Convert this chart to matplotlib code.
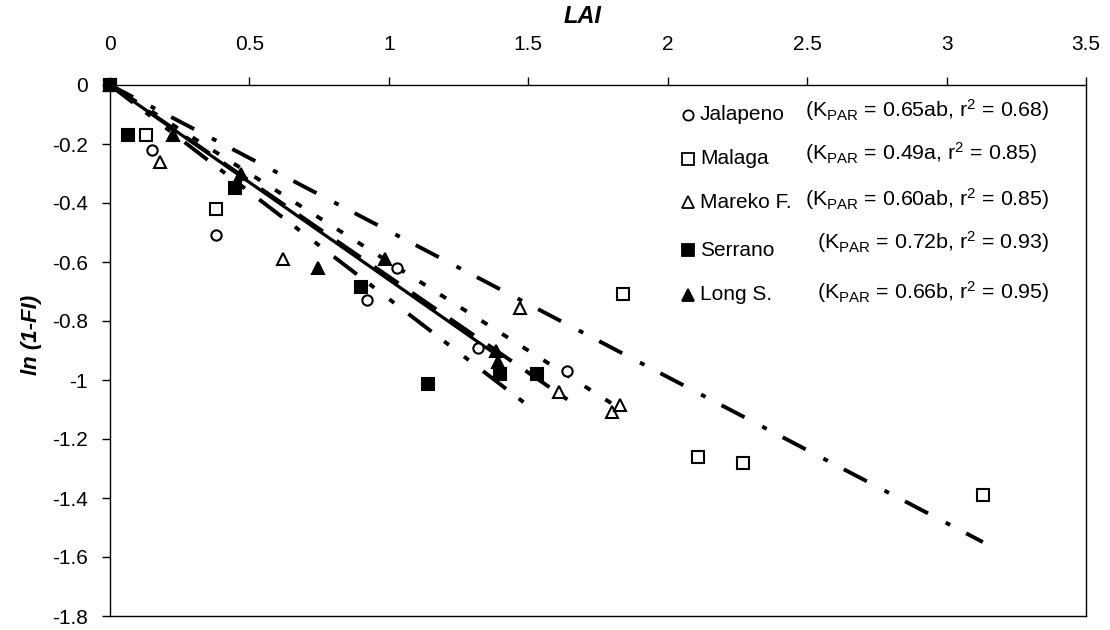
import matplotlib
matplotlib.use("Agg")
import matplotlib.pyplot as plt

plt.rcParams['font.family'] = ['Liberation Sans', 'DejaVu Sans']
plt.rcParams['mathtext.fontset'] = 'custom'
plt.rcParams['mathtext.rm'] = 'Liberation Sans'
plt.rcParams['mathtext.it'] = 'Liberation Sans:italic'
plt.rcParams['mathtext.bf'] = 'Liberation Sans:bold'
plt.rcParams['lines.scale_dashes'] = False

# ---------------- data ----------------
names = ["Jalapeno", "Malaga", "Mareko F.", "Serrano", "Long S."]
k_labels = ["0.65ab", "0.49a", "0.60ab", "0.72b", "0.66b"]
r2_labels = ["0.68", "0.85", "0.85", "0.93", "0.95"]

jal_x = [0, 0.15, 0.38, 0.92, 1.03, 1.32, 1.64]
jal_y = [0, -0.22, -0.51, -0.73, -0.62, -0.89, -0.97]
mal_x = [0, 0.13, 0.38, 1.84, 2.11, 2.27, 3.13]
mal_y = [0, -0.17, -0.42, -0.71, -1.26, -1.28, -1.39]
mar_x = [0, 0.18, 0.62, 1.47, 1.61, 1.80, 1.83]
mar_y = [0, -0.26, -0.59, -0.755, -1.04, -1.11, -1.085]
ser_x = [0, 0.066, 0.45, 0.90, 1.14, 1.40, 1.53]
ser_y = [0, -0.17, -0.35, -0.685, -1.015, -0.98, -0.98]
lon_x = [0, 0.225, 0.47, 0.745, 0.985, 1.385, 1.39]
lon_y = [0, -0.17, -0.30, -0.62, -0.59, -0.90, -0.94]

# fitted lines through origin (slope), end at max LAI
line_slope = [0.65, 0.495, 0.60, 0.725, 0.66]
line_end = [1.64, 3.13, 1.83, 1.53, 1.40]

x_ticks = [0, 0.5, 1, 1.5, 2, 2.5, 3, 3.5]
x_tick_labels = ["0", "0.5", "1", "1.5", "2", "2.5", "3", "3.5"]
y_ticks = [0, -0.2, -0.4, -0.6, -0.8, -1, -1.2, -1.4, -1.6, -1.8]
y_tick_labels = ["0", "-0.2", "-0.4", "-0.6", "-0.8", "-1", "-1.2", "-1.4", "-1.6", "-1.8"]

# ---------------- styles ----------------
xs = [jal_x, mal_x, mar_x, ser_x, lon_x]
ys = [jal_y, mal_y, mar_y, ser_y, lon_y]
markers = ['o', 's', '^', 's', '^']
filled = [False, False, False, True, True]
msizes = [7.4, 8.0, 8.6, 8.6, 8.6]
dashes = [(0, (21, 12)),
          (0, (18.7, 14.4, 3.6, 13)),
          (0, (5, 12.6)),
          (0, (20.9, 11.5, 4.3, 13.7, 4.3, 13)),
          '-']
widths = [2.8, 2.8, 2.8, 2.8, 2.3]

fig = plt.figure(figsize=(11.1, 6.3), dpi=100)
ax = fig.add_axes([110/1110, 1 - 616/630, 976/1110, 531/630])
ax.set_xlim(0, 3.5)
ax.set_ylim(-1.8, 0)

for i in range(5):
    ax.plot([0, line_end[i]], [0, -line_slope[i]*line_end[i]], color='black',
            lw=widths[i], linestyle=dashes[i], solid_capstyle='butt',
            dash_capstyle='butt', zorder=2)

for i in range(5):
    fc = 'black' if filled[i] else 'white'
    ax.plot(xs[i], ys[i], linestyle='none', marker=markers[i], ms=msizes[i],
            mfc=fc, mec='black', mew=1.5, clip_on=False, zorder=3)

ax.xaxis.tick_top()
ax.xaxis.set_label_position('top')
ax.set_xticks(x_ticks)
ax.set_xticklabels(x_tick_labels)
ax.set_yticks(y_ticks)
ax.set_yticklabels(y_tick_labels)
ax.tick_params(axis='x', direction='out', length=6, width=1, pad=16, labelsize=15)
ax.tick_params(axis='y', direction='out', length=6, width=1, pad=10, labelsize=15)
for s in ax.spines.values():
    s.set_linewidth(1.0)
    s.set_color('black')

ax.set_xlabel('LAI', fontsize=17, fontweight='bold', fontstyle='italic', labelpad=9,
              x=(583 - 110) / 976)
ax.set_ylabel('ln (1-FI)', fontsize=16, fontweight='bold', fontstyle='italic', labelpad=7,
              y=(616 - 335) / 531)

# legend (custom text block)
def fx(px):
    return (px - 110) / 976
def fy(py):
    return (616 - py) / 531

row_y = [115, 159, 202, 250, 295]
ktext_y = [110, 153, 199, 242, 292]
ktext_x = [805, 805, 805, 817, 817]
for i in range(5):
    fc = 'black' if filled[i] else 'white'
    ax.plot([fx(688)], [fy(row_y[i])], transform=ax.transAxes, linestyle='none',
            marker=markers[i], ms=msizes[i], mfc=fc, mec='black', mew=1.3, clip_on=False)
    ax.text(fx(700), fy(row_y[i]), names[i], transform=ax.transAxes,
            fontsize=15, va='center', ha='left')
    ax.text(fx(ktext_x[i]), fy(ktext_y[i]),
            r'(K$_{\mathregular{PAR}}$ = ' + k_labels[i] + r', r$^{\mathregular{2}}$ = ' + r2_labels[i] + ')',
            transform=ax.transAxes, fontsize=15.4, va='center', ha='left')

fig.savefig('out.png', dpi=100)
